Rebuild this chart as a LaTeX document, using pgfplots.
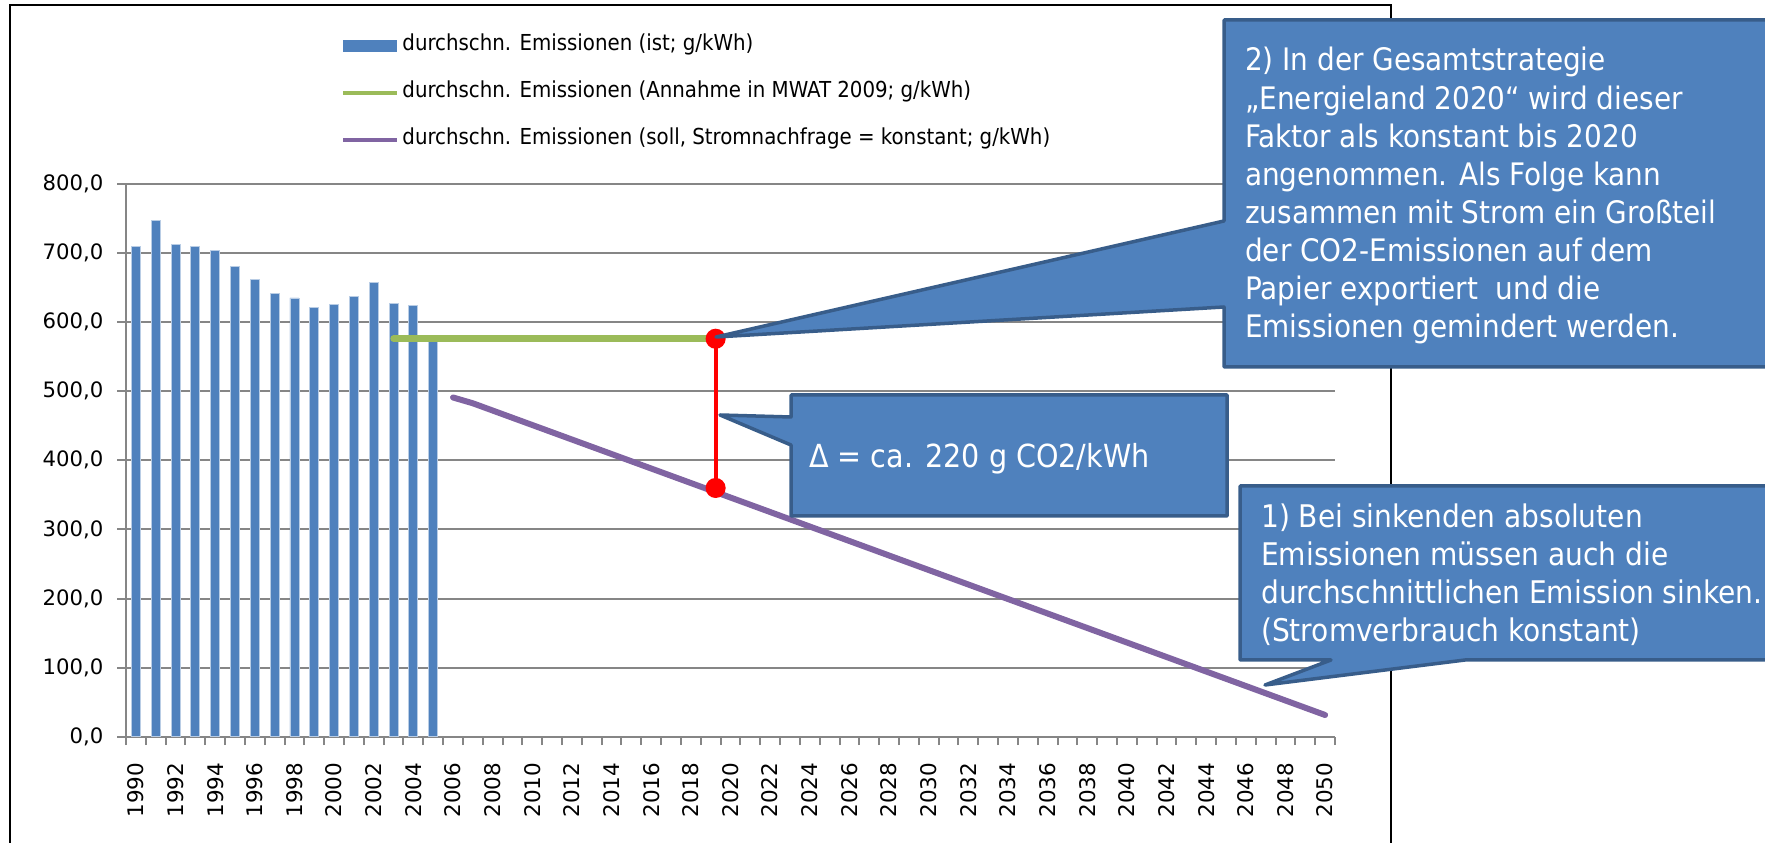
\documentclass[border=0pt]{standalone}
\usepackage{pgfplots}
\pgfplotsset{compat=1.18}
\usepackage{fontspec}
\setmainfont{DejaVu Sans Condensed}
\newfontfamily\tickfont{DejaVu Sans}

\definecolor{barblue}{HTML}{4F81BD}
\definecolor{baredge}{HTML}{B9CDE5}
\definecolor{mwatgreen}{HTML}{9BBB59}
\definecolor{sollpurple}{HTML}{8064A2}
\definecolor{gridgray}{HTML}{868686}
\definecolor{calloutedge}{HTML}{385D8A}

\pgfplotsset{
  lineleg/.style={legend image code/.code={\draw[##1, line width=4.5pt, line cap=butt] (0pt,0pt) -- (54pt,0pt);}},
  barleg/.style={legend image code/.code={\fill[barblue] (0pt,-5.5pt) rectangle (53pt,5.5pt);}},
}

\begin{document}
\begin{tikzpicture}
\useasboundingbox (0,0) rectangle (1765pt,843pt);
% outer chart frame (pixel frame, y downwards)
\begin{scope}[x=1pt,y=-1pt,shift={(0pt,843pt)}]
  \draw[line width=2.5pt] (10,5) rectangle (1391,880);
\end{scope}

\begin{axis}[
    at={(126pt,106.3pt)}, anchor=south west,
    width=1209pt, height=552.7pt, scale only axis,
    xmin=-0.5, xmax=60.5, ymin=0, ymax=800,
    axis lines*=left,
    axis line style={-, gridgray, line width=2pt},
    ymajorgrids,
    grid style={gridgray, line width=2pt},
    tick align=outside,
    major tick length=8.5pt,
    tick style={gridgray, line width=2pt},
    ytick={0,100,...,800},
    yticklabel style={font=\tickfont\fontsize{21.2}{24}\selectfont,
        anchor=east, inner sep=0pt, xshift=-14pt,
        /pgf/number format/.cd, fixed, fixed zerofill, precision=1,
        use comma, assume math mode=true},
    xtick={-0.5,0.5,...,60.5},
    xticklabels={},
    xticklabel style={font=\tickfont\fontsize{21.5}{24}\selectfont,
        yshift=-26pt, rotate=90, anchor=east, inner sep=0pt},
    extra x ticks={0,2,...,60},
    extra x tick labels={1990,1992,1994,1996,1998,2000,2002,2004,2006,2008,
        2010,2012,2014,2016,2018,2020,2022,2024,2026,2028,2030,2032,2034,
        2036,2038,2040,2042,2044,2046,2048,2050},
    extra x tick style={major tick length=0pt, tick style={draw=none}},
    legend cell align=left,
    legend style={at={(axis description cs:0.1778,1.268)}, anchor=north west,
        draw=none, fill=none, inner sep=0pt, outer sep=0pt,
        row sep=27pt, column sep=3pt,
        font=\fontsize{22}{24}\selectfont,
        nodes={inner sep=0pt, text height=15pt, text depth=5pt}},
    clip=false,
]

% actual average emissions 1990-2005 (category index 0 = 1990)
\addplot[ybar, bar width=9pt, fill=barblue, draw=baredge, line width=0.8pt, barleg]
    coordinates {
    (0,709) (1,747) (2,712) (3,709) (4,704) (5,680) (6,662) (7,641)
    (8,635) (9,621) (10,625) (11,637) (12,657) (13,627) (14,624) (15,581)
    };
\addlegendentry{durchschn. Emissionen (ist; g/kWh)}

% assumption MWAT 2009, 2003-2019
\addplot[mwatgreen, line width=6.5pt, line cap=round, lineleg]
    coordinates {(13,576) (29,576)};
\addlegendentry{durchschn. Emissionen (Annahme in MWAT 2009; g/kWh)}

% target path, constant electricity demand, 2006-2050
\addplot[sollpurple, line width=6pt, line cap=round, line join=round, lineleg]
    coordinates {(16,491) (17,482.6) (60,31.4)};
\addlegendentry{durchschn. Emissionen (soll, Stromnachfrage = konstant; g/kWh)}

% gap marker at 2019
\addplot[red, line width=4pt, mark=*, mark size=8pt,
    mark options={draw=none, fill=red}, forget plot]
    coordinates {(29.25,576) (29.25,360)};
\end{axis}

% callouts (pixel frame, y downwards)
\begin{scope}[x=1pt,y=-1pt,shift={(0pt,843pt)},
    callout/.style={fill=barblue, draw=calloutedge, line width=3.5pt, line join=round},
    txt/.style={anchor=base west, inner sep=0pt, text=white,
        font=\fontsize{31}{38}\selectfont}]
  \filldraw[callout] (1224,20) -- (1224,221) -- (716,337) -- (1224,307)
      -- (1224,367) -- (1790,367) -- (1790,20) -- cycle;
  \node[txt] at (1245,71.0)  {2) In der Gesamtstrategie};
  \node[txt] at (1245,109.1) {„Energieland 2020“ wird dieser};
  \node[txt] at (1245,147.2) {Faktor als konstant bis 2020};
  \node[txt] at (1245,185.3) {angenommen. Als Folge kann};
  \node[txt] at (1245,223.4) {zusammen mit Strom ein Großteil};
  \node[txt] at (1245,261.5) {der CO2-Emissionen auf dem};
  \node[txt] at (1245,299.6) {Papier exportiert\ \ und die};
  \node[txt] at (1245,337.7) {Emissionen gemindert werden.};

  \filldraw[callout] (791,395) -- (791,417) -- (720,415) -- (791,445)
      -- (791,516) -- (1227,516) -- (1227,395) -- cycle;
  \node[txt, font=\fontsize{31.8}{38}\selectfont] at (809,468) {Δ = ca. 220 g CO2/kWh};

  \filldraw[callout] (1240,486) -- (1240,660) -- (1331,660) -- (1265,685)
      -- (1465,660) -- (1790,660) -- (1790,486) -- cycle;
  \node[txt, font=\fontsize{31.2}{38}\selectfont] at (1261,528) {1) Bei sinkenden absoluten};
  \node[txt, font=\fontsize{31.2}{38}\selectfont] at (1261,566) {Emissionen müssen auch die};
  \node[txt, font=\fontsize{31.2}{38}\selectfont] at (1261,604) {durchschnittlichen Emission sinken.};
  \node[txt, font=\fontsize{31.2}{38}\selectfont] at (1261,642) {(Stromverbrauch konstant)};
\end{scope}
\end{tikzpicture}
\end{document}
